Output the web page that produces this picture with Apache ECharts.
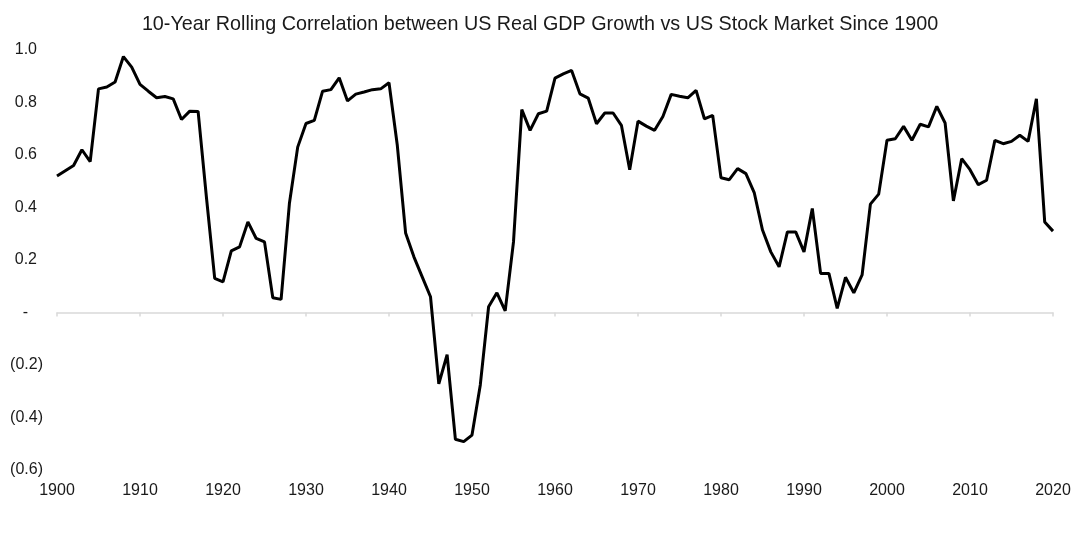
<!DOCTYPE html>
<html>
<head>
<meta charset="utf-8">
<script src="https://cdn.jsdelivr.net/npm/echarts@6/dist/echarts.min.js"></script>
<style>
  html, body { margin: 0; padding: 0; background: #fff; }
  #chart { width: 1080px; height: 540px; }
</style>
</head>
<body>
<div id="chart"></div>
<script>
// 10-year rolling correlation, one value per year 1900..2020
const startYear = 1900
const correlation = [
  0.52, 0.54, 0.56, 0.62, 0.575, 0.852, 0.859, 0.878, 0.975, 0.935,
  0.869, 0.843, 0.818, 0.823, 0.814, 0.735, 0.767, 0.766, 0.44, 0.13,
  0.117, 0.235, 0.25, 0.345, 0.282, 0.269, 0.056, 0.05, 0.415, 0.63,
  0.72, 0.732, 0.843, 0.849, 0.894, 0.806, 0.832, 0.84, 0.849, 0.852,
  0.875, 0.637, 0.303, 0.212, 0.136, 0.06, -0.272, -0.161, -0.483, -0.492,
  -0.467, -0.276, 0.022, 0.075, 0.006, 0.269, 0.773, 0.694, 0.757, 0.767,
  0.893, 0.909, 0.922, 0.833, 0.817, 0.719, 0.76, 0.76, 0.713, 0.544,
  0.729, 0.71, 0.694, 0.747, 0.831, 0.824, 0.818, 0.846, 0.738, 0.751,
  0.513, 0.506, 0.548, 0.529, 0.457, 0.314, 0.231, 0.174, 0.307, 0.307,
  0.231, 0.396, 0.149, 0.149, 0.016, 0.134, 0.075, 0.143, 0.413, 0.451,
  0.656, 0.662, 0.709, 0.656, 0.717, 0.707, 0.785, 0.722, 0.425, 0.586,
  0.544, 0.487, 0.504, 0.656, 0.643, 0.652, 0.675, 0.652, 0.814, 0.345,
  0.31
]
const yearTicks = [1900, 1910, 1920, 1930, 1940, 1950, 1960, 1970, 1980, 1990, 2000, 2010, 2020]

const points = correlation.map((v, i) => [startYear + i, v])

// Excel-style accounting labels: 1.0 / - / (0.2)
function fmtY(v) {
  const r = Math.round(v * 10) / 10
  if (r === 0) return '{z|-}'
  if (r < 0) return '(' + Math.abs(r).toFixed(1) + ')'
  return '{p|' + r.toFixed(1) + '}'
}

const font = 'Liberation Sans, Arial, sans-serif'
const chart = echarts.init(document.getElementById('chart'))
chart.setOption({
  animation: false,
  backgroundColor: '#fff',
  title: {
    text: '10-Year Rolling Correlation between US Real GDP Growth vs US Stock Market Since 1900',
    left: 'center',
    top: 10,
    textStyle: { fontFamily: font, fontSize: 19.75, fontWeight: 'normal', color: '#1a1a1a' }
  },
  grid: { left: 57, right: 27, top: 50, bottom: 70 },
  xAxis: [{
    type: 'value',
    min: yearTicks[0],
    max: yearTicks[yearTicks.length - 1],
    interval: 10,
    position: 'bottom',
    axisLine: { show: false, onZero: false },
    axisTick: { show: false },
    splitLine: { show: false },
    axisLabel: {
      fontFamily: font, fontSize: 16, color: '#1a1a1a', margin: 13,
      formatter: v => String(v)
    }
  }, {
    type: 'value',
    min: yearTicks[0],
    max: yearTicks[yearTicks.length - 1],
    interval: 10,
    position: 'bottom',
    axisLine: { show: true, onZero: true, lineStyle: { color: '#d9d9d9', width: 1.5 } },
    axisTick: { show: true, length: 4, lineStyle: { color: '#d9d9d9', width: 1.5 } },
    splitLine: { show: false },
    axisLabel: { show: false }
  }],
  yAxis: {
    type: 'value',
    min: -0.6,
    max: 1.0,
    interval: 0.2,
    axisLine: { show: false },
    axisTick: { show: false },
    splitLine: { show: false },
    axisLabel: {
      fontFamily: font, fontSize: 16, color: '#1a1a1a', margin: 14,
      formatter: fmtY,
      rich: {
        p: { fontFamily: font, fontSize: 16, color: '#1a1a1a', padding: [0, 6, 0, 0] },
        z: { fontFamily: font, fontSize: 16, color: '#1a1a1a', padding: [0, 15, 0, 0] }
      }
    }
  },
  series: [{
    type: 'line',
    xAxisIndex: 0,
    data: points,
    showSymbol: false,
    lineStyle: { color: '#000', width: 3 },
    itemStyle: { color: '#000' }
  }]
})
</script>
</body>
</html>
